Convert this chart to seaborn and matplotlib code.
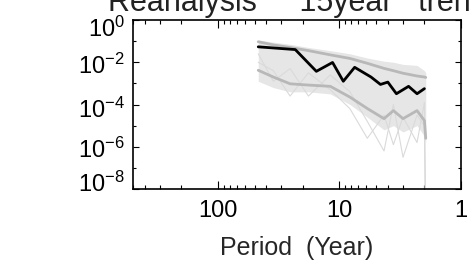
import numpy as np
import pandas as pd
import matplotlib
matplotlib.use("Agg")
import matplotlib.pyplot as plt
import matplotlib.ticker as ticker
import matplotlib.transforms as mtransforms
import seaborn as sns

# band-averaged spectrum (black line), log10 of power
mean_period = [46.6, 23.1, 15.5, 11.4, 9.3, 7.5, 5.5, 4.6, 4.0, 3.4, 2.7, 2.3, 2.0]
mean_log = [-1.27, -1.40, -2.43, -2.01, -2.90, -2.24, -2.70, -3.05, -2.94, -3.49, -3.14, -3.49, -3.25]

# ensemble envelope / members, on a common period grid
period = [46.6, 35, 25.5, 18, 11.9, 8.2, 5.9, 4.3, 3.6, 3.0, 2.3, 2.0, 1.95]
upper_log = [-1.03, -1.18, -1.30, -1.45, -1.65, -1.82, -2.05, -2.29, -2.40, -2.52, -2.65, -2.70, -2.72]
lower_log = [-2.38, -2.70, -3.02, -3.08, -3.14, -3.65, -4.19, -4.67, -4.29, -4.67, -4.29, -4.76, -5.60]
spread_hi_log = [-0.95, -1.05, -1.15, -1.30, -1.45, -1.60, -1.80, -1.95, -2.00, -2.10, -2.15, -2.40, -2.50]
spread_lo_log = [-2.90, -3.20, -3.40, -3.40, -3.50, -4.00, -4.60, -5.20, -5.00, -5.30, -5.00, -5.50, -5.80]
member_a_log = [-1.6, -2.9, -2.3, -3.6, -2.6, -3.4, -4.8, -6.2, -4.0, -6.5, -4.5, -5.0, -12.0]
member_b_log = [-2.0, -2.4, -3.6, -2.5, -3.3, -4.2, -5.6, -4.5, -5.9, -4.6, -5.8, -3.9, -9.0]

ytick_vals = [1e0, 1e-2, 1e-4, 1e-6, 1e-8]
ytick_shift = [-7, -2, -3, -1, 7]  # label nudges in px (IDL keeps end labels inside)

sns.set_style("ticks")
plt.rcParams["font.family"] = ["Liberation Sans", "DejaVu Sans"]
plt.rcParams["mathtext.fontset"] = "custom"
plt.rcParams["mathtext.rm"] = "Liberation Sans"
plt.rcParams["mathtext.it"] = "Liberation Sans:italic"

fig = plt.figure(figsize=(4.69, 2.64), dpi=100)
ax = fig.add_axes([133 / 469, 1 - 189 / 264, 328 / 469, 169 / 264])

grid = pd.DataFrame({"period": period})
for col, vals in [("upper", upper_log), ("lower", lower_log), ("hi", spread_hi_log),
                  ("lo", spread_lo_log), ("ma", member_a_log), ("mb", member_b_log)]:
    grid[col] = 10.0 ** np.array(vals)
mean = pd.DataFrame({"period": mean_period, "power": 10.0 ** np.array(mean_log)})

ax.fill_between(grid.period, grid.lo, grid.hi, color="#e6e6e6", lw=0, zorder=1)
for col in ["ma", "mb"]:
    sns.lineplot(data=grid, x="period", y=col, color="#dadada", lw=0.8,
                 estimator=None, ax=ax, zorder=2)
for col in ["upper", "lower"]:
    sns.lineplot(data=grid, x="period", y=col, color="#b8b8b8", lw=2,
                 estimator=None, ax=ax, zorder=3)
sns.lineplot(data=mean, x="period", y="power", color="black", lw=2,
             estimator=None, ax=ax, zorder=4)

ax.set_xscale("log")
ax.set_yscale("log")
ax.set_xlim(500, 1)
ax.set_ylim(1e-8, 1)

ax.xaxis.set_major_locator(ticker.FixedLocator([100, 10, 1]))
ax.xaxis.set_major_formatter(ticker.FixedFormatter(["100", "10", "1"]))
ax.xaxis.set_minor_locator(ticker.LogLocator(base=10, subs=np.arange(2, 10), numticks=20))
ax.xaxis.set_minor_formatter(ticker.NullFormatter())
ax.yaxis.set_major_locator(ticker.FixedLocator(ytick_vals))
ax.yaxis.set_major_formatter(ticker.LogFormatterMathtext())
ax.yaxis.set_minor_locator(ticker.FixedLocator([1e-1, 1e-3, 1e-5, 1e-7]))
ax.yaxis.set_minor_formatter(ticker.NullFormatter())

ax.tick_params(which="both", direction="in", top=True, right=True,
               colors="black", labelsize=17, width=0.8)
ax.tick_params(axis="x", which="major", length=6, pad=8)
ax.tick_params(axis="x", which="minor", length=3)
ax.tick_params(axis="y", which="major", length=4, pad=6)
ax.tick_params(axis="y", which="minor", length=2.5)
for s in ax.spines.values():
    s.set_linewidth(1.2)
    s.set_color("black")

fig.canvas.draw()
for tick, dy in zip(ax.yaxis.get_major_ticks(), ytick_shift):
    off = mtransforms.ScaledTranslation(0, dy / 100, fig.dpi_scale_trans)
    tick.label1.set_transform(tick.label1.get_transform() + off)

ax.set_xlabel("Period  (Year)", fontsize=18, labelpad=10)
ax.set_ylabel("")
fig.text(108 / 469, 1 - 11 / 264, 'Reanalysis     15year   trend',
         ha="left", va="baseline", fontsize=22, color="#222222")

fig.savefig("out.png", dpi=100)
